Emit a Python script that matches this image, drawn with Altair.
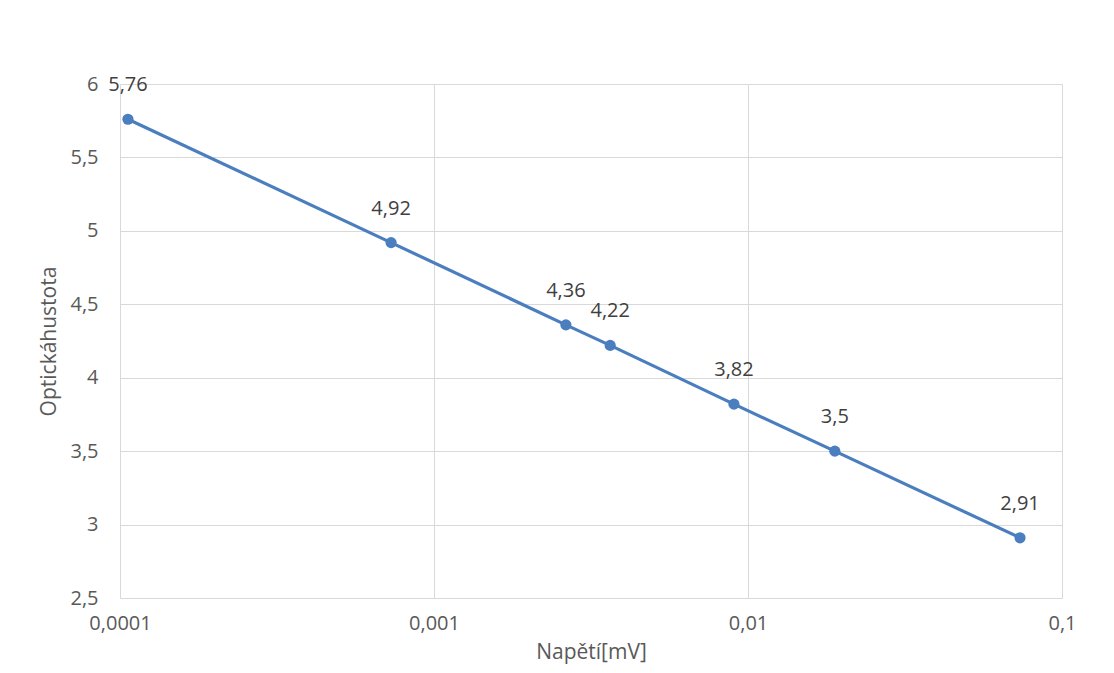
import altair as alt
import pandas as pd

voltage = [0.000106, 0.00073, 0.00263, 0.00364, 0.00902, 0.0189, 0.0735]
density = [5.76, 4.92, 4.36, 4.22, 3.82, 3.5, 2.91]
labels = ["5,76", "4,92", "4,36", "4,22", "3,82", "3,5", "2,91"]
x_ticks = [0.0001, 0.001, 0.01, 0.1]
y_ticks = [2.5, 3, 3.5, 4, 4.5, 5, 5.5, 6]

df = pd.DataFrame({"u": voltage, "d": density, "lab": labels})

FONT = "Open Sans"
BLUE = "#4a7ebf"

x = alt.X("u:Q", scale=alt.Scale(type="log", domain=[0.0001, 0.1], nice=False),
          axis=alt.Axis(values=x_ticks, title="Napětí[mV]",
                        labelExpr="replace(toString(datum.value), '.', ',')",
                        grid=True, gridColor="#d9d9d9", domain=False, ticks=False,
                        labelPadding=15, titlePadding=8, labelFlush=False))
y = alt.Y("d:Q", scale=alt.Scale(domain=[2.5, 6], nice=False, zero=False),
          axis=alt.Axis(values=y_ticks, title="Optickáhustota",
                        labelExpr="replace(toString(datum.value), '.', ',')",
                        grid=True, gridColor="#d9d9d9", domain=False, ticks=False,
                        labelPadding=22, titlePadding=10))

base = alt.Chart(df)
line = base.mark_line(color=BLUE, strokeWidth=3.2).encode(x=x, y=y)
pts = base.mark_point(filled=True, color=BLUE, size=125, opacity=1).encode(x=x, y=y)
txt = base.mark_text(dy=-34, fontSize=20, font=FONT, color="#404040").encode(x=x, y=y, text="lab:N")

chart = alt.layer(line, pts, txt).properties(
    width=942, height=514,
    autosize=alt.AutoSizeParams(type="none"),
    padding={"left": 112, "top": 76, "right": 44, "bottom": 67},
).configure_view(stroke=None).configure_axis(
    labelFont=FONT, titleFont=FONT, labelFontSize=20, titleFontSize=21,
    labelColor="#595959", titleColor="#595959", titleFontWeight="normal",
)

chart.save("out.html", embed_options={"renderer": "svg", "actions": False})
